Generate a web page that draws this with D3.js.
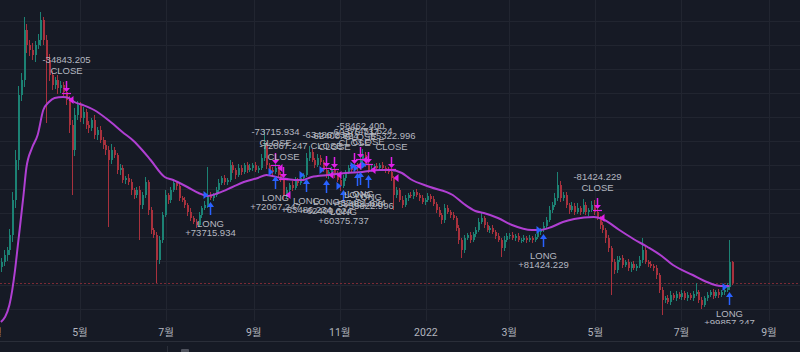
<!DOCTYPE html>
<html>
<head>
<meta charset="utf-8">
<script src="https://cdn.jsdelivr.net/npm/d3@7.9.0/dist/d3.min.js"></script>
<style>
  html, body { margin: 0; padding: 0; background: #161a25; overflow: hidden; }
  svg { display: block; }
</style>
</head>
<body>
<script>
// 2-day candles starting 2021-03-06, values in chart price units
const startDate = new Date(2021, 2, 6);
const firstOpen = 85;

const closes = [
  90,97,102,117,152,192,257,272,322,307,
  302,297,307,312,332,312,292,277,267,272,
  264,267,260,252,227,202,237,247,234,240,
  227,224,232,217,222,212,207,202,192,202,
  197,182,184,172,174,170,162,157,162,147,
  157,170,142,122,117,92,112,137,157,152,
  162,169,166,154,152,147,140,134,130,127,
  137,144,147,157,154,157,162,169,174,170,
  172,187,182,177,184,180,187,182,184,187,
  182,184,194,207,187,182,180,184,177,172,
  157,162,167,164,172,169,174,177,194,200,
  192,187,194,190,182,177,180,182,177,172,
  166,174,180,184,182,186,184,192,197,187,
  182,184,186,184,187,184,182,180,174,157,
  162,152,147,154,157,156,160,157,154,150,
  152,156,153,148,142,137,132,144,140,137,
  134,124,112,102,114,117,112,118,122,130,
  134,127,122,124,120,116,112,104,112,116,
  117,114,116,112,112,114,112,114,112,115,
  120,122,126,132,142,147,154,167,154,157,
  147,142,146,140,144,140,147,140,142,147,
  140,134,127,122,114,104,90,82,92,94,
  87,90,84,88,84,86,92,102,90,88,
  86,84,77,62,52,54,50,57,54,58,
  55,59,54,57,54,58,60,52,47,54,
  57,60,56,60,57,60,62,65,90,69
];

const wickUp = [
  4,5,3,6,8,10,9,7,13,6,
  5,7,4,6,8,3,5,6,4,3,
  5,4,3,0,4,5,7,4,3,5,
  3,4,2,5,3,4,3,5,4,6,
  3,2,4,3,2,4,3,2,3,4,
  3,5,2,3,2,3,4,3,5,2,
  3,4,2,3,2,3,2,4,2,3,
  3,2,4,28,3,2,3,4,2,3,
  2,5,3,2,4,3,2,3,4,2,
  3,2,4,15,3,2,3,4,2,3,
  2,3,2,4,3,2,3,2,5,6,
  3,2,4,3,2,3,2,3,2,4,
  2,3,2,3,4,2,3,2,6,3,
  2,3,2,3,2,3,2,3,4,2,
  3,2,4,3,2,3,2,3,2,3,
  2,3,2,3,2,3,2,4,3,2,
  3,2,3,2,3,2,3,2,3,4,
  5,2,3,2,3,2,3,2,4,3,
  2,3,2,3,2,3,2,3,2,3,
  3,2,4,3,4,3,5,13,4,3,
  3,2,4,3,5,2,6,3,2,4,
  5,3,2,3,2,3,2,3,4,2,
  3,2,3,2,3,2,4,12,3,2,
  3,2,3,2,3,2,3,4,2,3,
  2,3,2,3,2,3,9,2,3,2,
  3,2,3,2,3,2,3,4,22,1
];

const wickDn = [
  5,4,6,5,7,8,10,6,7,8,
  6,5,7,4,6,5,63,6,5,4,
  6,5,4,5,8,45,6,5,4,6,
  4,5,3,4,5,3,4,5,67,4,
  3,4,5,3,4,3,5,4,3,35,
  4,3,5,4,3,23,4,3,2,4,
  3,2,4,3,2,3,4,3,2,3,
  2,3,2,3,2,3,2,3,2,3,
  3,2,3,4,2,3,2,3,2,3,
  2,3,2,3,4,2,3,2,3,2,
  5,3,2,3,2,3,2,3,2,3,
  2,3,2,3,2,3,4,2,3,2,
  5,2,3,2,3,2,3,2,3,2,
  3,2,3,2,3,2,3,2,3,15,
  3,2,3,2,3,2,3,2,3,2,
  3,2,3,2,3,2,4,3,2,3,
  2,3,4,8,3,2,3,2,3,2,
  2,3,2,3,2,3,2,9,3,2,
  3,2,3,2,3,2,3,2,3,2,
  2,3,2,3,2,3,2,3,4,3,
  3,4,2,3,2,3,2,3,4,2,
  3,2,4,3,5,4,33,4,3,2,
  3,2,3,4,2,3,2,3,2,3,
  2,3,4,3,15,3,2,3,2,3,
  2,3,2,3,2,3,2,3,4,2,
  3,2,3,2,3,2,3,2,3,2
];

// moving average, read at selected candle indices
const maIdx = [0,3,5,6,8,9,11,13,15,17,19,22,24,26,29,33,38,43,47,50,
  53,58,61,66,70,73,77,82,86,91,94,99,104,107,110,116,122,128,134,138,
  142,145,152,160,164,168,171,176,181,188,191,195,199,203,210,213,219,224,229,234,
  238,245,250,255,258];
const maVal = [30,47,82,107,157,184,204,217,242,250,254,255,254,250,247,242,232,220,211,202,
  192,175,172,165,159,156,159,165,170,174,177,174,172,172,175,177,179,180,182,182,
  179,173,165,157,148,141,139,134,127,122,122,125,130,133,135,133,122,113,105,96,
  87,77,70,66,66];

// strategy trades
const entryIdx = [74,97,108,115,121,126,127,130,192,258];
const entryQty = [73715.934,72067.247,63486.234,62400.624,60375.737,58462.400,57451.624,55322.996,81424.229,99857.247];
const exitIdx = [23,97,100,115,118,125,127,130,138,211];
const exitQty = [34843.205,73715.934,72067.247,63486.234,62400.624,60375.737,58462.400,57451.624,55322.996,81424.229];

const gridLevels = [331,307,283,259,235,211,187,163,139,115,91,67,43];

const W = 800, H = 352, plotH = 324;

const candles = closes.map((c, i) => {
  const o = i === 0 ? firstOpen : closes[i - 1];
  return {
    date: d3.timeDay.offset(startDate, i * 2),
    open: o, close: c,
    high: Math.max(o, c) + wickUp[i],
    low: Math.min(o, c) - wickDn[i]
  };
});

const x = d3.scaleTime()
  .domain([new Date(2021, 4, 1), new Date(2022, 8, 1)])
  .range([80, 769]);
const y = d3.scaleLinear().domain([0, 352]).range([352, 0]);

const svg = d3.select('body').append('svg').attr('width', W).attr('height', H);
svg.append('rect').attr('width', W).attr('height', H).attr('fill', '#161a25');

svg.append('defs').append('clipPath').attr('id', 'plot')
  .append('rect').attr('width', W).attr('height', plotH);

const monthTicks = d3.timeMonth.every(2).range(new Date(2021, 2, 1), new Date(2022, 9, 1));
const fmt = d => d.getMonth() === 0 ? String(d.getFullYear()) : `${d.getMonth() + 1}월`;

// grid
const grid = svg.append('g').attr('clip-path', 'url(#plot)');
grid.selectAll('.vg').data(monthTicks).join('line')
  .attr('x1', d => Math.round(x(d)) + 0.5).attr('x2', d => Math.round(x(d)) + 0.5)
  .attr('y1', 0).attr('y2', 321)
  .attr('stroke', '#212530');
grid.selectAll('.hg').data(gridLevels).join('line')
  .attr('x1', 0).attr('x2', W)
  .attr('y1', d => Math.round(y(d)) + 0.5).attr('y2', d => Math.round(y(d)) + 0.5)
  .attr('stroke', '#212530');

// last price line
const last = candles[candles.length - 1];
svg.append('line')
  .attr('x1', 0).attr('x2', W)
  .attr('y1', Math.round(y(last.close)) + 0.5).attr('y2', Math.round(y(last.close)) + 0.5)
  .attr('stroke', '#7a2a35').attr('stroke-dasharray', '2,2');

const plot = svg.append('g').attr('clip-path', 'url(#plot)');

// candles
const up = '#1c8274', down = '#a8313d';
const cg = plot.append('g').attr('shape-rendering', 'crispEdges');
cg.selectAll('.wick').data(candles).join('rect')
  .attr('x', d => Math.round(x(d.date)))
  .attr('width', 1)
  .attr('y', d => y(d.high))
  .attr('height', d => y(d.low) - y(d.high))
  .attr('fill', d => d.close >= d.open ? up : down);
cg.selectAll('.body').data(candles).join('rect')
  .attr('x', d => Math.round(x(d.date)) - 0.5)
  .attr('width', 2)
  .attr('y', d => y(Math.max(d.open, d.close)))
  .attr('height', d => Math.max(1, Math.abs(y(d.open) - y(d.close))))
  .attr('fill', d => d.close >= d.open ? up : down);

// moving average
const maPts = maIdx.map((k, j) => ({ date: candles[k].date, v: maVal[j] }));
plot.append('path')
  .datum(maPts)
  .attr('fill', 'none')
  .attr('stroke', '#b03fd2')
  .attr('stroke-width', 2)
  .attr('d', d3.line().curve(d3.curveMonotoneX).x(d => x(d.date)).y(d => y(d.v)));

// trade markers
const blue = '#2962ff', pink = '#e020e8', txt = '#b5b8c0';
const font = '"Liberation Sans", Arial, sans-serif';
const mk = plot.append('g');

exitIdx.forEach((k, j) => {
  const c = candles[k];
  const cx = Math.round(x(c.date)) + 0.5;
  const base = y(c.high) + 1;
  const top = base - 12;
  mk.append('line').attr('x1', cx).attr('x2', cx).attr('y1', top).attr('y2', base - 4)
    .attr('stroke', pink).attr('stroke-width', 1.5);
  mk.append('path').attr('d', `M${cx - 3.5},${base - 5} L${cx + 3.5},${base - 5} L${cx},${base - 1} Z`)
    .attr('fill', pink);
  mk.append('line').attr('x1', cx - 4.5).attr('x2', cx + 4.5).attr('y1', base + 0.5).attr('y2', base + 0.5)
    .attr('stroke', pink).attr('stroke-width', 1.2);
  const ty = y(c.close);
  mk.append('path').attr('d', `M${cx + 7},${ty - 4} L${cx + 7},${ty + 4} L${cx + 2},${ty} Z`)
    .attr('fill', pink);
  mk.append('text').attr('x', cx).attr('y', top - 7).attr('text-anchor', 'middle')
    .attr('font-family', font).attr('font-size', 9.5).attr('fill', txt).text('CLOSE');
  mk.append('text').attr('x', cx).attr('y', top - 18).attr('text-anchor', 'middle')
    .attr('font-family', font).attr('font-size', 9.5).attr('fill', txt)
    .text('-' + exitQty[j].toFixed(3));
});

entryIdx.forEach((k, j) => {
  const c = candles[k];
  const cx = Math.round(x(c.date)) + 0.5;
  const top = y(c.low) + 2;
  mk.append('line').attr('x1', cx).attr('x2', cx).attr('y1', top + 4).attr('y2', top + 13)
    .attr('stroke', blue).attr('stroke-width', 1.5);
  mk.append('path').attr('d', `M${cx - 3.5},${top + 5} L${cx + 3.5},${top + 5} L${cx},${top} Z`)
    .attr('fill', blue);
  const ty = y(c.open);
  mk.append('path').attr('d', `M${cx - 7},${ty - 4} L${cx - 7},${ty + 4} L${cx - 2},${ty} Z`)
    .attr('fill', blue);
  mk.append('text').attr('x', cx).attr('y', top + 25).attr('text-anchor', 'middle')
    .attr('font-family', font).attr('font-size', 9.5).attr('fill', txt).text('LONG');
  mk.append('text').attr('x', cx).attr('y', top + 34).attr('text-anchor', 'middle')
    .attr('font-family', font).attr('font-size', 9.5).attr('fill', txt)
    .text('+' + entryQty[j].toFixed(3));
});

// time axis band
svg.append('rect').attr('x', 0).attr('y', 324).attr('width', W).attr('height', 17).attr('fill', '#161a25');
svg.append('g').selectAll('text').data(monthTicks).join('text')
  .attr('x', d => x(d)).attr('y', 336)
  .attr('text-anchor', 'middle')
  .attr('font-family', 'Roboto, "Noto Sans CJK KR", sans-serif')
  .attr('font-size', 10.5)
  .attr('fill', '#b2b5be')
  .text(fmt);

svg.append('line').attr('x1', 0).attr('x2', W).attr('y1', 341.5).attr('y2', 341.5)
  .attr('stroke', '#2a2e39');
svg.append('line').attr('x1', 167.5).attr('x2', 167.5).attr('y1', 346).attr('y2', 352)
  .attr('stroke', '#2a2e39');
svg.append('rect').attr('x', 181).attr('y', 349).attr('width', 8).attr('height', 4).attr('rx', 1)
  .attr('fill', '#50535e');
</script>
</body>
</html>
